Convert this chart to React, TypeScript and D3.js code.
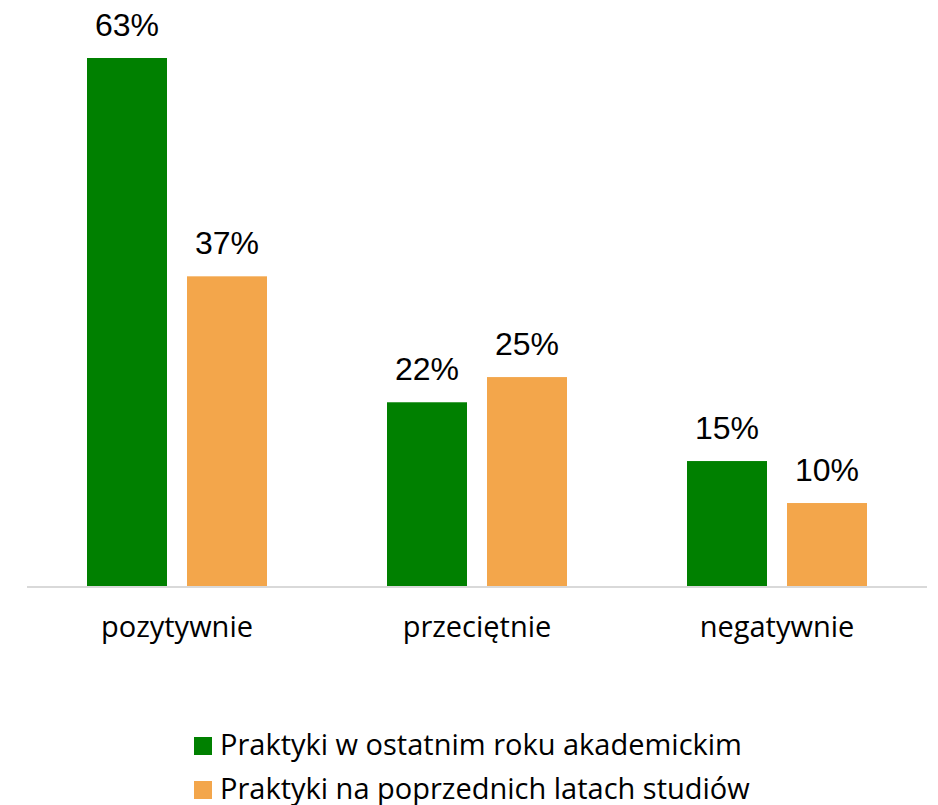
import React from 'react';
import * as d3 from 'd3';

const categories = ['pozytywnie', 'przeciętnie', 'negatywnie'];
const seriesNames = ['Praktyki w ostatnim roku akademickim', 'Praktyki na poprzednich latach studiów'];
const lastYear = [63, 22, 15];
const previousYears = [37, 25, 10];
const colors = ['#008000', '#F3A64B'];

const width = 938;
const height = 805;
const font = '"Liberation Sans", Arial, sans-serif';
const textFont = '"Open Sans", "Liberation Sans", sans-serif';

export default function App() {
  const series = [lastYear, previousYears];
  const baseline = 587;

  const x = d3.scaleBand().domain(categories).range([27, 927]).paddingInner(0).paddingOuter(0);
  const inner = d3
    .scaleBand()
    .domain(['0', '1'])
    .range([0, x.bandwidth()])
    .paddingInner(0.2)
    .paddingOuter(0.6);
  const y = d3.scaleLinear().domain([0, 63]).range([baseline, 58]);

  return (
    <svg width={width} height={height} style={{ position: 'absolute', left: 0, top: 0 }}>
      <rect width={width} height={height} fill="#fff" />
      {series.map((vals, si) =>
        vals.map((v, ci) => {
          const bx = (x(categories[ci]) as number) + (inner(String(si)) as number);
          return (
            <g key={`${si}-${ci}`}>
              <rect x={bx} y={y(v)} width={inner.bandwidth()} height={baseline - y(v)} fill={colors[si]} />
              <text
                x={bx + inner.bandwidth() / 2}
                y={y(v) - 22}
                textAnchor="middle"
                fontFamily={font}
                fontSize={32}
                fill="#000"
              >
                {v}%
              </text>
            </g>
          );
        })
      )}
      <line x1={27} x2={927} y1={baseline} y2={baseline} stroke="#d9d9d9" strokeWidth={2} />
      {categories.map((c) => (
        <text
          key={c}
          x={(x(c) as number) + x.bandwidth() / 2}
          y={637}
          textAnchor="middle"
          fontFamily={textFont}
          fontSize={29}
          fill="#000"
        >
          {c}
        </text>
      ))}
      {seriesNames.map((name, i) => (
        <g key={name} transform={`translate(194, ${737 + i * 44})`}>
          <rect width={18} height={18} fill={colors[i]} />
          <text x={26} y={18} fontFamily={textFont} fontSize={29} fill="#000">
            {name}
          </text>
        </g>
      ))}
    </svg>
  );
}
